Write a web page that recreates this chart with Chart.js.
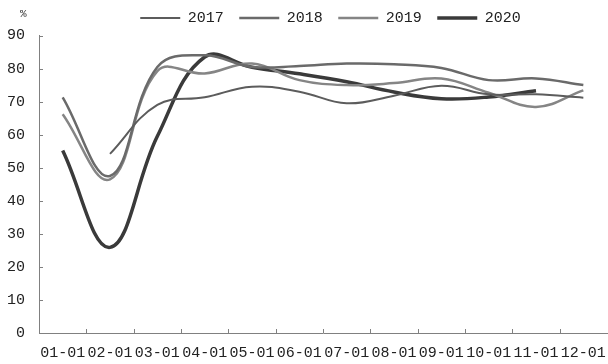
<!DOCTYPE html>
<html><head><meta charset="utf-8">
<script src="https://cdn.jsdelivr.net/npm/chart.js@4/dist/chart.umd.min.js"></script>
<style>
html,body{margin:0;padding:0;background:#fff;}
#wrap{position:relative;width:608px;height:364px;}
#unit{position:absolute;left:20px;top:8px;font:11px "Liberation Mono",monospace;color:#333;}
</style></head><body>
<div id="wrap"><canvas id="c" width="608" height="364"></canvas><span id="unit">%</span></div>
<script>
const categories = ['01-01','02-01','03-01','04-01','05-01','06-01','07-01','08-01','09-01','10-01','11-01','12-01'];
const seriesNames = ['2017','2018','2019','2020'];
const values2017 = [null, 54.2, 69.0, 71.3, 74.5, 73.0, 69.5, 71.8, 74.8, 72.2, 72.2, 71.2];
const values2018 = [71.3, 47.5, 80.5, 84.0, 80.5, 80.8, 81.5, 81.3, 80.2, 76.5, 77.0, 75.0];
const values2019 = [66.2, 46.5, 79.2, 78.5, 81.5, 76.5, 75.0, 75.6, 77.0, 72.7, 68.4, 73.4];
const values2020 = [55.2, 25.9, 59.5, 83.5, 80.4, 78.4, 76.0, 72.9, 70.9, 71.4, 73.3];
const yTicks = [0,10,20,30,40,50,60,70,80,90];

const FONT = '"Liberation Mono", "DejaVu Sans Mono", monospace';
const AXIS = '#808080';

const inwardTicks = {
  id: 'inwardTicks',
  afterDraw(chart) {
    const {ctx, scales: {x, y}, chartArea: a} = chart;
    ctx.save();
    ctx.strokeStyle = AXIS;
    ctx.lineWidth = 1;
    ctx.beginPath();
    y.ticks.forEach((t, i) => {
      const py = Math.round(y.getPixelForTick(i)) + 0.5;
      ctx.moveTo(a.left, py); ctx.lineTo(a.left + 4, py);
    });
    for (let i = 1; i < categories.length; i++) {
      const px = Math.round((x.getPixelForValue(i - 1) + x.getPixelForValue(i)) / 2) + 0.5;
      ctx.moveTo(px, a.bottom); ctx.lineTo(px, a.bottom - 4);
    }
    ctx.stroke();
    ctx.restore();
  }
};

const legendShift = {
  id: 'legendShift',
  afterLayout(chart) {
    if (chart.legend) { chart.legend.left += 27; chart.legend.right += 27; }
  }
};

function ds(label, data, color, width) {
  return {label, data, borderColor: color, backgroundColor: color, borderWidth: width,
    pointRadius: 0, pointHoverRadius: 0, pointStyle: 'line', tension: 0.4, fill: false, spanGaps: false};
}

new Chart(document.getElementById('c'), {
  type: 'line',
  data: {
    labels: categories,
    datasets: [
      ds(seriesNames[0], values2017, '#5c5c5c', 2),
      ds(seriesNames[1], values2018, '#6a6a6a', 2.5),
      ds(seriesNames[2], values2019, '#858585', 2.5),
      ds(seriesNames[3], values2020, '#3a3a3a', 3.5)
    ]
  },
  options: {
    responsive: false,
    animation: false,
    devicePixelRatio: 1,
    layout: {padding: {left: 0, right: 1, top: -5, bottom: 0}},
    plugins: {
      tooltip: {enabled: false},
      legend: {
        position: 'top',
        align: 'center',
        labels: {
          usePointStyle: true,
          pointStyle: 'line',
          pointStyleWidth: 40,
          font: {family: FONT, size: 15},
          color: '#222',
          padding: 15.5
        }
      }
    },
    scales: {
      x: {
        type: 'category',
        offset: true,
        grid: {display: false, drawTicks: false},
        border: {display: true, color: AXIS, width: 1},
        afterFit(scale) { scale.paddingLeft = 0; scale.paddingRight = 0; scale.height = 31; },
        ticks: {autoSkip: false, maxRotation: 0, minRotation: 0, padding: 11.5,
          font: {family: FONT, size: 15}, color: '#222'}
      },
      y: {
        min: 0, max: 90,
        afterBuildTicks(scale) { scale.ticks = yTicks.map(v => ({value: v})); },
        afterFit(scale) { scale.width = 39; },
        grid: {display: false, drawTicks: false},
        border: {display: true, color: AXIS, width: 1},
        ticks: {padding: 14, font: {family: FONT, size: 15}, color: '#222'}
      }
    }
  },
  plugins: [inwardTicks, legendShift]
});
</script>
</body></html>
